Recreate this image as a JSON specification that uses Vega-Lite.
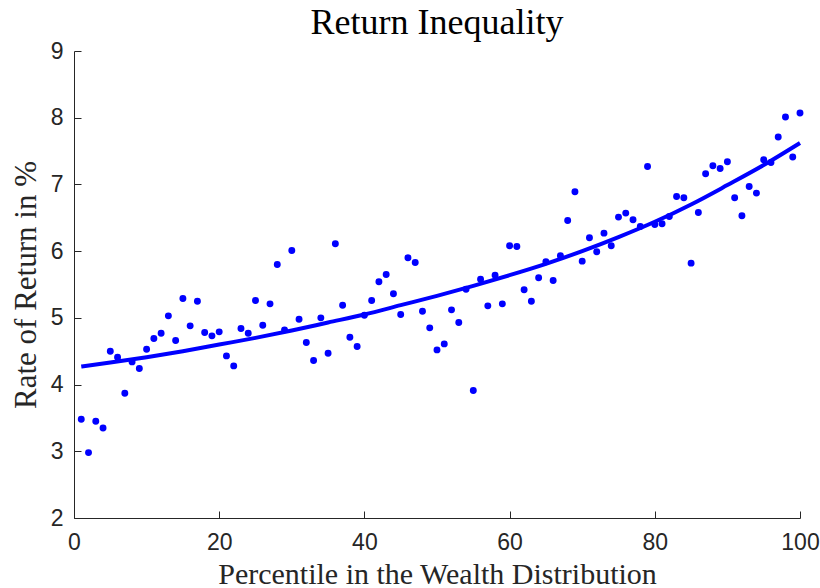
{
  "$schema": "https://vega.github.io/schema/vega-lite/v6.json",
  "width": 726,
  "height": 467,
  "autosize": "none",
  "padding": {"left": 74, "top": 51, "right": 20, "bottom": 70},
  "background": "white",
  "config": {"view": {"stroke": null}},
  "title": {"text": "Return Inequality", "font": "Liberation Serif", "fontSize": 36, "fontWeight": "normal", "color": "#000000", "offset": -2},
  "datasets": {
    "pts": [
      {"p":1,"r":3.48},{"p":2,"r":2.98},{"p":3,"r":3.45},{"p":4,"r":3.35},{"p":5,"r":4.50},
      {"p":6,"r":4.41},{"p":7,"r":3.87},{"p":8,"r":4.34},{"p":9,"r":4.24},{"p":10,"r":4.53},
      {"p":11,"r":4.69},{"p":12,"r":4.77},{"p":13,"r":5.03},{"p":14,"r":4.66},{"p":15,"r":5.29},
      {"p":16,"r":4.88},{"p":17,"r":5.25},{"p":18,"r":4.78},{"p":19,"r":4.73},{"p":20,"r":4.79},
      {"p":21,"r":4.43},{"p":22,"r":4.28},{"p":23,"r":4.84},{"p":24,"r":4.77},{"p":25,"r":5.26},
      {"p":26,"r":4.89},{"p":27,"r":5.21},{"p":28,"r":5.80},{"p":29,"r":4.82},{"p":30,"r":6.01},
      {"p":31,"r":4.98},{"p":32,"r":4.63},{"p":33,"r":4.36},{"p":34,"r":5.00},{"p":35,"r":4.47},
      {"p":36,"r":6.11},{"p":37,"r":5.19},{"p":38,"r":4.71},{"p":39,"r":4.57},{"p":40,"r":5.04},
      {"p":41,"r":5.26},{"p":42,"r":5.54},{"p":43,"r":5.65},{"p":44,"r":5.36},{"p":45,"r":5.05},
      {"p":46,"r":5.90},{"p":47,"r":5.83},{"p":48,"r":5.10},{"p":49,"r":4.85},{"p":50,"r":4.52},
      {"p":51,"r":4.61},{"p":52,"r":5.12},{"p":53,"r":4.93},{"p":54,"r":5.43},{"p":55,"r":3.91},
      {"p":56,"r":5.58},{"p":57,"r":5.18},{"p":58,"r":5.64},{"p":59,"r":5.21},{"p":60,"r":6.08},
      {"p":61,"r":6.07},{"p":62,"r":5.42},{"p":63,"r":5.25},{"p":64,"r":5.60},{"p":65,"r":5.84},
      {"p":66,"r":5.56},{"p":67,"r":5.93},{"p":68,"r":6.46},{"p":69,"r":6.89},{"p":70,"r":5.85},
      {"p":71,"r":6.20},{"p":72,"r":5.99},{"p":73,"r":6.27},{"p":74,"r":6.08},{"p":75,"r":6.51},
      {"p":76,"r":6.57},{"p":77,"r":6.47},{"p":78,"r":6.37},{"p":79,"r":7.27},{"p":80,"r":6.40},
      {"p":81,"r":6.41},{"p":82,"r":6.52},{"p":83,"r":6.82},{"p":84,"r":6.80},{"p":85,"r":5.82},
      {"p":86,"r":6.58},{"p":87,"r":7.16},{"p":88,"r":7.28},{"p":89,"r":7.24},{"p":90,"r":7.34},
      {"p":91,"r":6.80},{"p":92,"r":6.53},{"p":93,"r":6.97},{"p":94,"r":6.87},{"p":95,"r":7.37},
      {"p":96,"r":7.33},{"p":97,"r":7.71},{"p":98,"r":8.01},{"p":99,"r":7.41},{"p":100,"r":8.07}
    ],
    "fit": [
      {"p":1,"r":4.27},{"p":5,"r":4.33},{"p":10,"r":4.41},{"p":15,"r":4.50},{"p":20,"r":4.60},
      {"p":25,"r":4.70},{"p":30,"r":4.81},{"p":35,"r":4.93},{"p":40,"r":5.05},{"p":45,"r":5.19},
      {"p":50,"r":5.33},{"p":55,"r":5.48},{"p":60,"r":5.64},{"p":65,"r":5.81},{"p":70,"r":6.00},
      {"p":75,"r":6.21},{"p":80,"r":6.44},{"p":85,"r":6.70},{"p":90,"r":6.99},{"p":95,"r":7.29},
      {"p":100,"r":7.62}
    ]
  },
  "encoding": {
    "x": {"field": "p", "type": "quantitative",
      "scale": {"domain": [0, 100], "nice": false, "zero": false},
      "axis": {"title": "Percentile in the Wealth Distribution", "values": [0,20,40,60,80,100],
        "grid": false, "domainColor": "#262626", "domainWidth": 1, "tickColor": "#262626", "tickSize": -7,
        "labelFlush": false, "labelOverlap": false,
        "labelFont": "Liberation Sans", "labelFontSize": 23, "labelColor": "#262626", "labelPadding": 20,
        "titleFont": "Liberation Serif", "titleFontSize": 30, "titleFontWeight": "normal", "titleColor": "#262626", "titlePadding": 5}},
    "y": {"field": "r", "type": "quantitative",
      "scale": {"domain": [2, 9], "nice": false, "zero": false},
      "axis": {"title": "Rate of Return in %", "values": [2,3,4,5,6,7,8,9],
        "grid": false, "domainColor": "#262626", "domainWidth": 1, "tickColor": "#262626", "tickSize": -7,
        "labelFlush": false, "labelOverlap": false,
        "labelFont": "Liberation Sans", "labelFontSize": 23, "labelColor": "#262626", "labelPadding": 18,
        "titleFont": "Liberation Serif", "titleFontSize": 31, "titleFontWeight": "normal", "titleColor": "#262626", "titlePadding": 8}}
  },
  "layer": [
    {"data": {"name": "pts"}, "mark": {"type": "circle", "size": 48, "color": "#0000ff", "opacity": 1}},
    {"data": {"name": "fit"}, "mark": {"type": "line", "color": "#0000ff", "strokeWidth": 4, "interpolate": "monotone"}}
  ]
}
